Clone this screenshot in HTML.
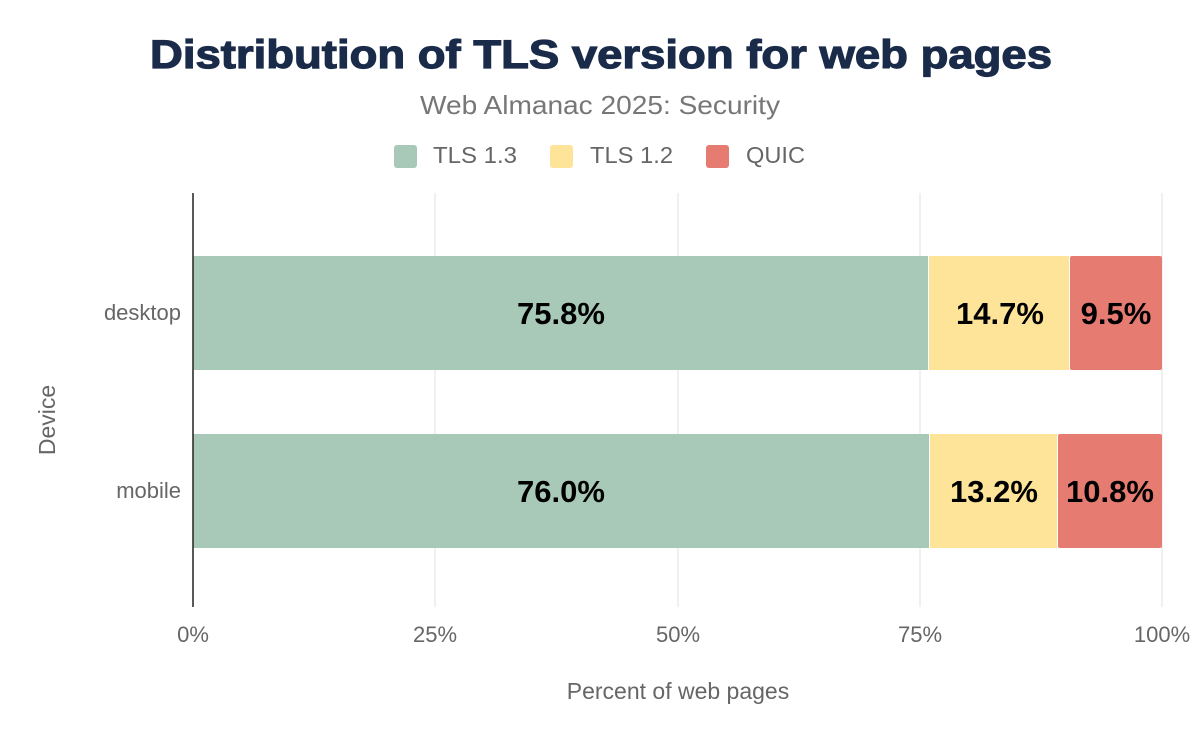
<!DOCTYPE html>
<html><head><meta charset="utf-8"><style>
html,body{margin:0;padding:0;background:#fff;}
svg{display:block;font-family:"Liberation Sans",Arial,sans-serif;}
</style></head><body>
<svg width="1200" height="742" viewBox="0 0 1200 742">
<rect width="1200" height="742" fill="#fff"/>
<text x="601" y="68" text-anchor="middle" font-size="40" font-weight="900" fill="#1a2b4a" textLength="902" lengthAdjust="spacingAndGlyphs" stroke="#1a2b4a" stroke-width="1.2">Distribution of TLS version for web pages</text>
<text x="420" y="114" font-size="26" fill="#777" textLength="360" lengthAdjust="spacingAndGlyphs">Web Almanac 2025: Security</text>
<rect x="394" y="145" width="23" height="23" rx="3" fill="#a8c8b8"/>
<text x="433" y="163" font-size="23" fill="#666" textLength="84" lengthAdjust="spacingAndGlyphs">TLS 1.3</text>
<rect x="550" y="145" width="23" height="23" rx="3" fill="#fde499"/>
<text x="590" y="163" font-size="23" fill="#666" textLength="83" lengthAdjust="spacingAndGlyphs">TLS 1.2</text>
<rect x="706" y="145" width="23" height="23" rx="3" fill="#e67b72"/>
<text x="746" y="163" font-size="23" fill="#666" textLength="59" lengthAdjust="spacingAndGlyphs">QUIC</text>
<g stroke="#ececec" stroke-width="1.5">
<line x1="435" y1="193" x2="435" y2="607"/>
<line x1="678" y1="193" x2="678" y2="607"/>
<line x1="920" y1="193" x2="920" y2="607"/>
<line x1="1162" y1="193" x2="1162" y2="607"/>
</g>
<rect x="193" y="256" width="735" height="114" fill="#a8c8b8"/>
<rect x="929" y="256" width="140" height="114" fill="#fde499"/>
<rect x="1070" y="256" width="92" height="114" rx="2" fill="#e67b72"/>
<rect x="193" y="434" width="736" height="114" fill="#a8c8b8"/>
<rect x="930" y="434" width="127" height="114" fill="#fde499"/>
<rect x="1058" y="434" width="104" height="114" rx="2" fill="#e67b72"/>
<line x1="193" y1="193" x2="193" y2="607" stroke="#222" stroke-width="1.5"/>
<g font-size="31" font-weight="bold" fill="#000" text-anchor="middle">
<text x="561" y="324">75.8%</text>
<text x="1000" y="324">14.7%</text>
<text x="1116" y="324">9.5%</text>
<text x="561" y="502">76.0%</text>
<text x="994" y="502">13.2%</text>
<text x="1110" y="502">10.8%</text>
</g>
<g font-size="22" fill="#666">
<text x="181" y="320" text-anchor="end">desktop</text>
<text x="181" y="498" text-anchor="end">mobile</text>
<text x="193" y="642" text-anchor="middle">0%</text>
<text x="435" y="642" text-anchor="middle">25%</text>
<text x="678" y="642" text-anchor="middle">50%</text>
<text x="920" y="642" text-anchor="middle">75%</text>
<text x="1162" y="642" text-anchor="middle">100%</text>
<text x="678" y="699" text-anchor="middle" font-size="23">Percent of web pages</text>
<text transform="translate(55,420) rotate(-90)" text-anchor="middle" font-size="23">Device</text>
</g>
</svg>
</body></html>
